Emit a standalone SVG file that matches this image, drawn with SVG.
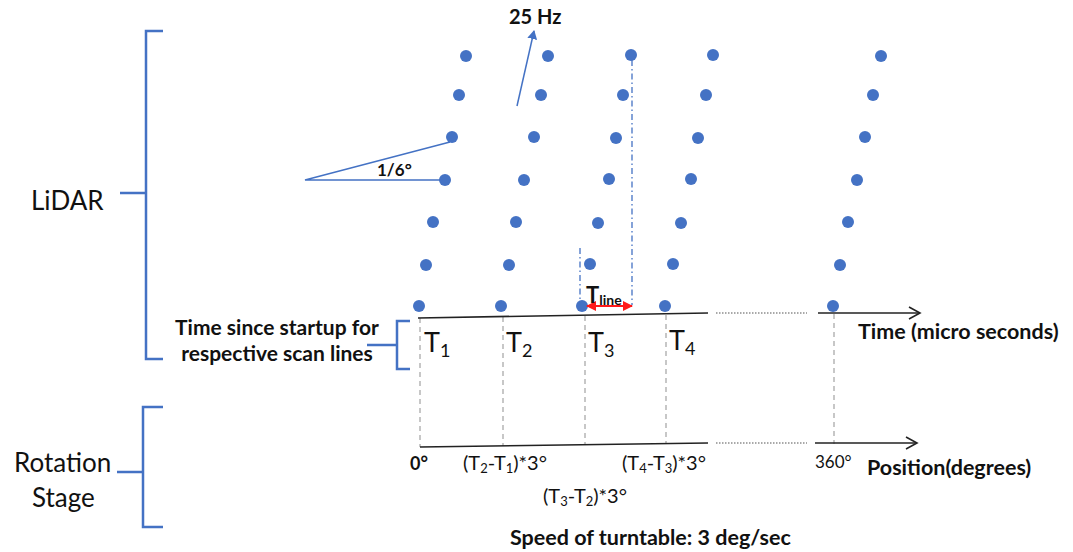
<svg xmlns="http://www.w3.org/2000/svg" width="1073" height="552" viewBox="0 0 1073 552">
<style>
.dot{fill:#4472c4}
.brace{fill:none;stroke:#4472c4;stroke-width:2.5}
.axis{fill:none;stroke:#222;stroke-width:1.6}
.dots{fill:none;stroke:#555;stroke-width:1.2;stroke-dasharray:1.5 1.5}
.guide{fill:none;stroke:#aaa;stroke-width:1.3;stroke-dasharray:5 4}
.dashdot{fill:none;stroke:#4472c4;stroke-width:1.3;stroke-dasharray:6 3 1.5 3}
.blue{fill:none;stroke:#4472c4;stroke-width:1.5}
.t{font-family:Lato,"Open Sans","Liberation Sans",sans-serif;fill:#111}
.b{font-weight:bold}
</style>
<defs>
<marker id="open" markerWidth="14" markerHeight="14" refX="12" refY="7" orient="auto" markerUnits="userSpaceOnUse"><path d="M1,1 L12,7 L1,13" fill="none" stroke="#222" stroke-width="1.6"/></marker>
<marker id="blueHead" markerWidth="10" markerHeight="10" refX="8" refY="5" orient="auto" markerUnits="userSpaceOnUse"><path d="M0,0 L9,5 L0,10 z" fill="#4472c4"/></marker>
<marker id="redHead" markerWidth="10" markerHeight="10" refX="9" refY="5" orient="auto-start-reverse" markerUnits="userSpaceOnUse"><path d="M0,0 L10,5 L0,10 z" fill="#ff1a1a"/></marker>
</defs>

<g id="lidar-brace">
<path class="brace" d="M163,31 L146,31 L146,359 L163,359 M120,193 L146,193"/>
<text class="t" x="31" y="210" font-size="26">LiDAR</text>
</g>
<g id="rotation-brace">
<path class="brace" d="M163,407 L143,407 L143,527 L163,527 M117,472 L143,472"/>
<text class="t" x="14" y="472" font-size="26">Rotation</text>
<text class="t" x="32" y="507" font-size="26">Stage</text>
</g>
<g id="time-brace">
<path class="brace" d="M410,321 L397,321 L397,369 L410,369 M367,345 L397,345"/>
<text class="t b" x="277" y="335" font-size="21" text-anchor="middle">Time since startup for</text>
<text class="t b" x="277" y="361" font-size="21" text-anchor="middle">respective scan lines</text>
</g>

<g id="scan-dots">
<circle class="dot" cx="419" cy="306" r="6"/><circle class="dot" cx="426" cy="265" r="6"/><circle class="dot" cx="433" cy="222" r="6"/><circle class="dot" cx="445" cy="180" r="6"/><circle class="dot" cx="452" cy="137" r="6"/><circle class="dot" cx="459" cy="95" r="6"/><circle class="dot" cx="466" cy="56" r="6"/>
<circle class="dot" cx="501" cy="306" r="6"/><circle class="dot" cx="509" cy="265" r="6"/><circle class="dot" cx="516" cy="222" r="6"/><circle class="dot" cx="524" cy="180" r="6"/><circle class="dot" cx="534" cy="137" r="6"/><circle class="dot" cx="541" cy="95" r="6"/><circle class="dot" cx="548" cy="56" r="6"/>
<circle class="dot" cx="582" cy="306" r="6"/><circle class="dot" cx="590" cy="264" r="6"/><circle class="dot" cx="598" cy="223" r="6"/><circle class="dot" cx="609" cy="179" r="6"/><circle class="dot" cx="616" cy="138" r="6"/><circle class="dot" cx="623" cy="95" r="6"/><circle class="dot" cx="631" cy="55" r="6"/>
<circle class="dot" cx="665" cy="306" r="6"/><circle class="dot" cx="673" cy="264" r="6"/><circle class="dot" cx="681" cy="223" r="6"/><circle class="dot" cx="691" cy="179" r="6"/><circle class="dot" cx="698" cy="138" r="6"/><circle class="dot" cx="706" cy="95" r="6"/><circle class="dot" cx="713" cy="55" r="6"/>
<circle class="dot" cx="833" cy="306" r="6"/><circle class="dot" cx="840" cy="265" r="6"/><circle class="dot" cx="848" cy="222" r="6"/><circle class="dot" cx="857" cy="180" r="6"/><circle class="dot" cx="865" cy="137" r="6"/><circle class="dot" cx="873" cy="95" r="6"/><circle class="dot" cx="881" cy="56" r="6"/>
</g>

<g id="connectors">
<line class="guide" x1="420" y1="318" x2="420" y2="447"/>
<line class="guide" x1="503" y1="317" x2="503" y2="446"/>
<line class="guide" x1="585" y1="316" x2="585" y2="445"/>
<line class="guide" x1="666" y1="315" x2="666" y2="444"/>
<line class="guide" x1="834" y1="314" x2="834" y2="444"/>
<line class="axis" x1="418" y1="318" x2="708" y2="313"/>
<line class="dots" x1="716" y1="313" x2="807" y2="313"/>
<line class="axis" x1="818" y1="313" x2="920" y2="313" marker-end="url(#open)"/>
<line class="axis" x1="420" y1="447" x2="708" y2="443"/>
<line class="dots" x1="716" y1="443" x2="807" y2="443"/>
<line class="axis" x1="815" y1="443" x2="917" y2="443" marker-end="url(#open)"/>
<line class="dashdot" x1="580" y1="248" x2="580" y2="306"/>
<line class="dashdot" x1="632" y1="60" x2="632" y2="305"/>
<line x1="587" y1="306" x2="632" y2="306" stroke="#ff1a1a" stroke-width="2" marker-start="url(#redHead)" marker-end="url(#redHead)"/>
<line class="blue" x1="517" y1="106" x2="534" y2="31" marker-end="url(#blueHead)"/>
<polyline class="blue" points="443,180 305,180 450,142"/>
</g>

<g id="labels">
<text class="t b" x="509" y="24" font-size="20">25 Hz</text>
<text class="t b" x="377" y="176" font-size="17">1/6°</text>
<text class="t b" x="586" y="303" font-size="22">T<tspan font-size="14" dy="2">line</tspan></text>
<text class="t" x="424" y="352" font-size="27">T<tspan font-size="18" dy="5">1</tspan></text>
<text class="t" x="506" y="352" font-size="27">T<tspan font-size="18" dy="5">2</tspan></text>
<text class="t" x="588" y="352" font-size="27">T<tspan font-size="18" dy="5">3</tspan></text>
<text class="t" x="669" y="350" font-size="27">T<tspan font-size="18" dy="5">4</tspan></text>
<text class="t b" x="858" y="339" font-size="21.5">Time (micro seconds)</text>
<text class="t b" x="867" y="475" font-size="21.5">Position(degrees)</text>
<text class="t" x="815" y="468" font-size="17">360°</text>
<text class="t b" x="410" y="470" font-size="18">0°</text>
<text class="t" x="463" y="470" font-size="20">(T<tspan font-size="13" dy="3">2</tspan><tspan dy="-3">-T</tspan><tspan font-size="13" dy="3">1</tspan><tspan dy="-3">)*3°</tspan></text>
<text class="t" x="622" y="470" font-size="20">(T<tspan font-size="13" dy="3">4</tspan><tspan dy="-3">-T</tspan><tspan font-size="13" dy="3">3</tspan><tspan dy="-3">)*3°</tspan></text>
<text class="t" x="543" y="503" font-size="20">(T<tspan font-size="13" dy="3">3</tspan><tspan dy="-3">-T</tspan><tspan font-size="13" dy="3">2</tspan><tspan dy="-3">)*3°</tspan></text>
<text class="t b" x="510" y="545" font-size="21.5">Speed of turntable: 3 deg/sec</text>
</g>
</svg>
